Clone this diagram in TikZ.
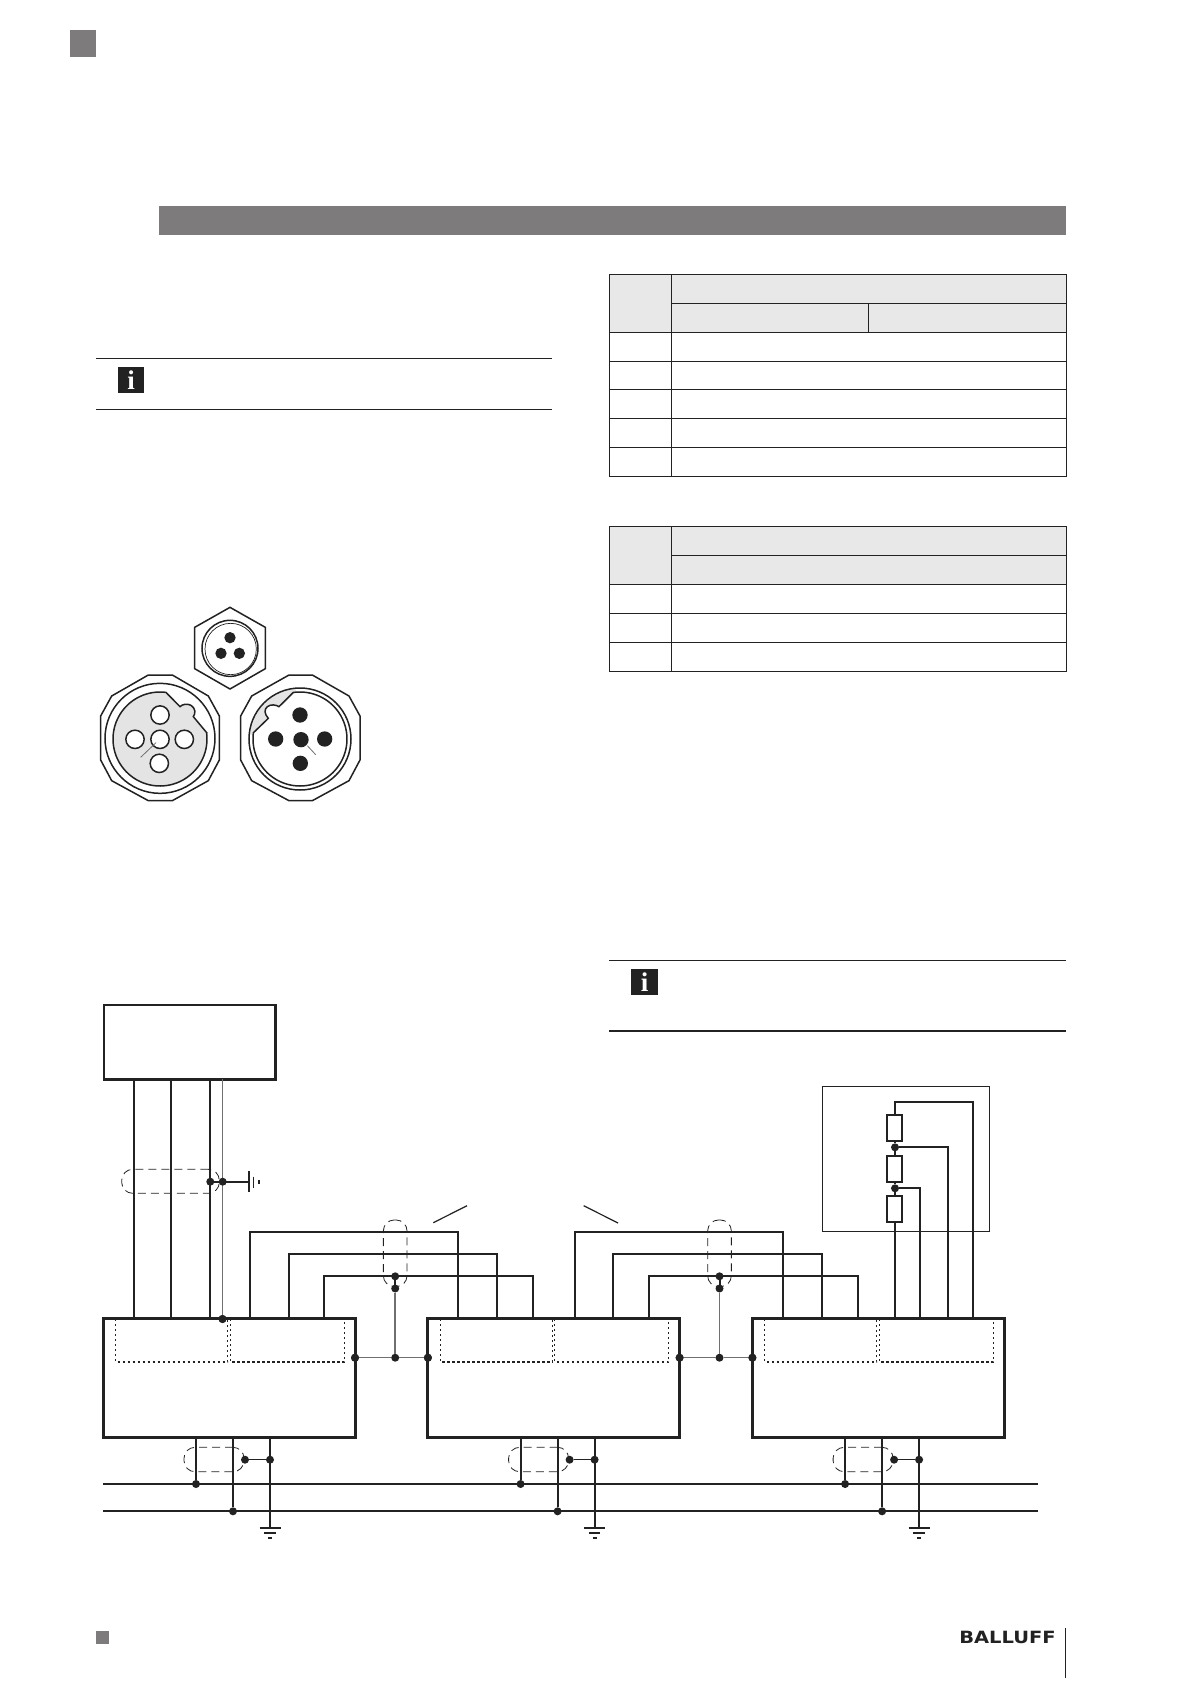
\documentclass[tikz,border=0pt]{standalone}
\usepackage{fontspec}
\setmainfont{Liberation Serif}
\newfontfamily\logofont{DejaVu Sans}
\definecolor{ink}{HTML}{222222}
\definecolor{barcol}{HTML}{7D7B7C}
\definecolor{headcol}{HTML}{E8E8E8}
\definecolor{pincol}{HTML}{E4E4E4}
\definecolor{midgray}{HTML}{707070}
\tikzset{
  block/.style={draw=ink,line width=3pt,fill=white,rectangle,inner sep=0,outer sep=0},
  hostblock/.style={block,line width=2.8pt},
  wire/.style={draw=ink,line width=2pt},
  thinwire/.style={draw=midgray,line width=1.5pt},
  junction/.style={circle,fill=ink,inner sep=0,outer sep=0,minimum size=8pt},
  shield/.style={draw=ink,line width=0.8pt,dash pattern=on 8pt off 5pt,rectangle,rounded corners=11pt,inner sep=0,outer sep=0},
  zone/.style={draw=ink,line width=1.1pt,dash pattern=on 2.4pt off 2.6pt},
  earthbar/.style={draw=ink,line width=1.9pt},
  resistor/.style={draw=ink,line width=2pt,fill=white,rectangle,inner sep=0,outer sep=0,minimum width=15.6pt,minimum height=26.6pt},
  cell/.style={draw=ink,line width=1.2pt},
  rulel/.style={draw=ink,line width=1.2pt},
  infoicon/.style={fill=ink,text=white,rectangle,inner sep=0,outer sep=0,minimum width=26.5pt,minimum height=26pt,font=\fontsize{27}{27}\selectfont\bfseries},
  patch/.style={fill=barcol,rectangle,inner sep=0,outer sep=0},
  conn/.style={draw=ink,line width=1.5pt},
  connthin/.style={draw=ink,line width=0.7pt},
}
\begin{document}
\begin{tikzpicture}[x=1pt,y=-1pt]
\useasboundingbox[fill=white] (0,0) rectangle (1191,1684);

% page furniture
\node[patch,minimum width=26pt,minimum height=26.7pt] (cornertl) at (83,43.35) {};
\node[patch,minimum width=906.5pt,minimum height=29pt] (titlebar) at (612.25,220.5) {};
\node[patch,minimum width=13pt,minimum height=13pt] (cornerbl) at (102.5,1637.2) {};

% info notes
\draw[rulel] (96,358.3) -- (551.5,358.3);
\draw[rulel] (96,409.3) -- (551.5,409.3);
\node[infoicon] (infoa) at (131,379.7) {i};
\draw[rulel] (609,960.3) -- (1065.7,960.3);
\draw[rulel] (609,1031) -- (1065.7,1031);
\node[infoicon] (infob) at (644.5,982) {i};

% table 1
\fill[headcol] (609.7,274.3) rectangle (1066.3,332.3);
\draw[cell] (609.7,274.3) rectangle (1066.3,476.3);
\draw[cell] (671.3,274.3) -- (671.3,476.3);
\draw[cell] (671.3,303.3) -- (1066.3,303.3);
\draw[cell] (868.3,303.3) -- (868.3,332.3);
\foreach \r in {332.3,361.3,389.3,418.3,447.3} \draw[cell] (609.7,\r) -- (1066.3,\r);

% table 2
\fill[headcol] (609.7,526.3) rectangle (1066.3,584.3);
\draw[cell] (609.7,526.3) rectangle (1066.3,671.3);
\draw[cell] (671.3,526.3) -- (671.3,671.3);
\draw[cell] (671.3,555.3) -- (1066.3,555.3);
\foreach \r in {584.3,613.3,642.3} \draw[cell] (609.7,\r) -- (1066.3,\r);

% connectors (coordinates follow a 3x grid)
\begin{scope}[shift={(80,590)},x=0.33333pt,y=-0.33333pt]
  % three pin
  \draw[conn] (450,52) -- (556,112) -- (556,236) -- (450,297) -- (344,236) -- (344,112) -- cycle;
  \draw[conn] (450,175) circle[radius=84];
  \draw[connthin] (452,177) circle[radius=77];
  \foreach \px/\py in {450/143,423/190,478/190} \fill[ink] (\px,\py) circle[radius=17];
  % female
  \draw[conn] (205,255) -- (277,255) -- (385,318) -- (418,378) -- (418,510) -- (385,572) -- (277,632) -- (205,632) -- (95,572) -- (62,510) -- (62,378) -- (95,318) -- cycle;
  \draw[conn] (240,445) circle[radius=165];
  \draw[conn,fill=pincol] plot[domain=-7.7:277.3,samples=80] ({240+141*cos(\x)},{447+141*sin(\x)})
     -- (300,350) .. controls (308,342) and (322,340) .. (333,346) .. controls (346,354) and (348,370) .. (340,380) -- (380,428) -- cycle;
  \foreach \px/\py in {240/375,165/448,240/448,313/448,238/520} \draw[conn,fill=white] (\px,\py) circle[radius=27.5];
  \draw[draw=midgray,line width=0.8pt] (182,502) -- (228,458);
  % male
  \draw[conn] (627,255) -- (697,255) -- (807,318) -- (840,378) -- (840,510) -- (807,572) -- (697,632) -- (627,632) -- (515,572) -- (482,510) -- (482,378) -- (515,318) -- cycle;
  \fill[pincol] plot[domain=185:265,samples=30] ({660+150*cos(\x)},{447+150*sin(\x)}) -- (660,447) -- cycle;
  \draw[conn] (660,447) circle[radius=153];
  \draw[conn,fill=white] plot[domain=-98.2:187.7,samples=80] ({660+141*cos(\x)},{447+141*sin(\x)})
     -- (565,385) .. controls (553,372) and (552,358) .. (562,350) .. controls (572,342) and (588,344) .. (597,350) -- cycle;
  \foreach \px/\py in {660/375,587/447,663/449,734/447,661/520} \fill[ink] (\px,\py) circle[radius=23];
  \draw[draw=midgray,line width=0.8pt] (682,467) -- (707,494);
\end{scope}

% host block
\node[hostblock,minimum width=171.7pt,minimum height=74.3pt] (host) at (189.85,1042.15) {};

% modules
\foreach \n/\dx in {1/0,2/324.6,3/649.1}{
  \begin{scope}[shift={(\dx,0)}]
    \node[block,minimum width=251.7pt,minimum height=118.5pt] (m\n) at (229.15,1378) {};
    \draw[zone] (115.7,1319) -- (115.7,1362) -- (227.7,1362) -- (227.7,1319);
    \draw[zone] (230.3,1319) -- (230.3,1362) -- (344.3,1362) -- (344.3,1319);
    \coordinate (gnd\n) at (270,1528);
    \coordinate (gndb\n) at (270,1532.7);
    \coordinate (gndc\n) at (270,1538);
    \node[junction] (busa\n) at (196,1484) {};
    \node[junction] (busb\n) at (233,1511.3) {};
    \node[junction] (sa\n) at (245,1459.7) {};
    \node[junction] (sb\n) at (270,1459.7) {};
    \node[shield,minimum width=60pt,minimum height=24.4pt] (shbot\n) at (214,1459.5) {};
  \end{scope}
  \draw[wire] (busa\n) -- (busa\n |- m\n.south);
  \draw[wire] (busb\n) -- (busb\n |- m\n.south);
  \draw[wire] (gnd\n) -- (gnd\n |- m\n.south);
  \draw[draw=ink,line width=1.2pt] (sa\n) -- (sb\n);
  \draw[earthbar] ([xshift=-10.5pt]gnd\n) -- ([xshift=10.5pt]gnd\n);
  \draw[earthbar] ([xshift=-5.7pt]gndb\n) -- ([xshift=5.7pt]gndb\n);
  \draw[earthbar] ([xshift=-2pt]gndc\n) -- ([xshift=2pt]gndc\n);
}

% power rails
\coordinate (railal) at (103.3,1484);
\coordinate (railar) at (1037.6,1484);
\coordinate (railbl) at (103.3,1511.3);
\coordinate (railbr) at (1037.6,1511.3);
\draw[wire] (railal) -- (railar);
\draw[wire] (railbl) -- (railbr);

% host to module 1
\foreach \k/\xw in {a/133.7,b/171.3,c/210}{
  \coordinate (hw\k) at (\xw,1079);
  \draw[wire] (hw\k) -- (hw\k |- m1.north);
}
\node[junction] (hostshield) at (222.5,1319) {};
\coordinate (hwd) at (222.5,1079);
\draw[thinwire] (hwd) -- (hostshield);
\node[shield,minimum width=97.6pt,minimum height=24pt] (shhost) at (170.5,1181.3) {};
\node[junction] (sha) at (210.3,1181.7) {};
\node[junction] (shb) at (222.7,1181.7) {};
\coordinate (earth) at (249,1181.7);
\draw[wire] (sha) -- (earth);
\draw[draw=ink,line width=2pt] (249,1171) -- (249,1191.7);
\draw[draw=ink,line width=1.4pt] (253.7,1176.7) -- (253.7,1187.7);
\draw[draw=ink,line width=1.4pt] (259,1180) -- (259,1184);

% module to module bus
\foreach \k/\nx/\dx/\xs in {1/2/0/395.2,2/3/324.6/719.5}{
  \begin{scope}[shift={(\dx,0)}]
    \coordinate (ca\k) at (250,1232.3); \coordinate (cb\k) at (458.3,1232.3);
    \coordinate (cc\k) at (288.7,1254.3); \coordinate (cd\k) at (497,1254.3);
    \coordinate (ce\k) at (324.3,1276.3); \coordinate (cf\k) at (533,1276.3);
  \end{scope}
  \draw[wire] (ca\k |- m\k.north) -- (ca\k) -- (cb\k) -- (cb\k |- m\nx.north);
  \draw[wire] (cc\k |- m\k.north) -- (cc\k) -- (cd\k) -- (cd\k |- m\nx.north);
  \draw[wire] (ce\k |- m\k.north) -- (ce\k) -- (cf\k) -- (cf\k |- m\nx.north);
  \node[shield,minimum width=23.7pt,minimum height=66.7pt] (shv\k) at (\xs,1253.3) {};
  \node[junction] (ja\k) at (\xs,1276.3) {};
  \node[junction] (jb\k) at (\xs,1288.5) {};
  \node[junction] (jc\k) at (\xs,1357.7) {};
  \node[junction] (jl\k) at (m\k.east |- jc\k) {};
  \node[junction] (jr\k) at (m\nx.west |- jc\k) {};
  \draw[thinwire] (jb\k) -- (jc\k);
  \draw[thinwire] (jl\k) -- (jc\k) -- (jr\k);
  \draw[wire] (ja\k) -- (jb\k);
}
\coordinate (tka) at (433.3,1222.7); \coordinate (tkb) at (467,1205.7);
\coordinate (tkc) at (583.7,1205.7); \coordinate (tkd) at (618,1223);
\draw[draw=ink,line width=1.2pt] (tka) -- (tkb);
\draw[draw=ink,line width=1.2pt] (tkc) -- (tkd);

% termination
\node[draw=ink,line width=1.2pt,rectangle,inner sep=0,outer sep=0,minimum width=167pt,minimum height=145pt] (term) at (905.8,1158.8) {};
\node[resistor] (ra) at (894.5,1128) {};
\node[resistor] (rb) at (894.5,1169) {};
\node[resistor] (rc) at (894.5,1209) {};
\node[junction] (ta) at (895,1147.3) {};
\node[junction] (tb) at (895,1188.3) {};
\coordinate (tca) at (895,1102); \coordinate (tcb) at (972.8,1102);
\coordinate (tcc) at (947.7,1147.3); \coordinate (tcd) at (919.7,1188.3);
\draw[wire] (ra.north -| tca) -- (tca) -- (tcb) -- (tcb |- m3.north);
\draw[wire] (ta) -- (tcc) -- (tcc |- m3.north);
\draw[wire] (tb) -- (tcd) -- (tcd |- m3.north);
\draw[wire] (ra.south -| ta) -- (ta) -- (rb.north -| ta);
\draw[wire] (rb.south -| tb) -- (tb) -- (rc.north -| tb);
\draw[wire] (rc.south -| tb) -- (m3.north -| tb);

% redraw module tops over wire ends
\foreach \n in {1,2,3}{
  \draw[draw=ink,line width=3pt] (m\n.north west) rectangle (m\n.south east);
}
\node[junction] at (hostshield) {};
\foreach \k in {1,2}{ \node[junction] at (jl\k) {}; \node[junction] at (jr\k) {}; }

% logo
\node[inner sep=0,outer sep=0,text=ink] (logo) at (1007.5,1637.8) {\resizebox{96.4pt}{12.3pt}{\logofont\bfseries BALLUFF}};
\coordinate (foott) at (1065.3,1628.3); \coordinate (footb) at (1065.3,1677.7);
\draw[draw=ink,line width=1.2pt] (foott) -- (footb);
\end{tikzpicture}
\end{document}
